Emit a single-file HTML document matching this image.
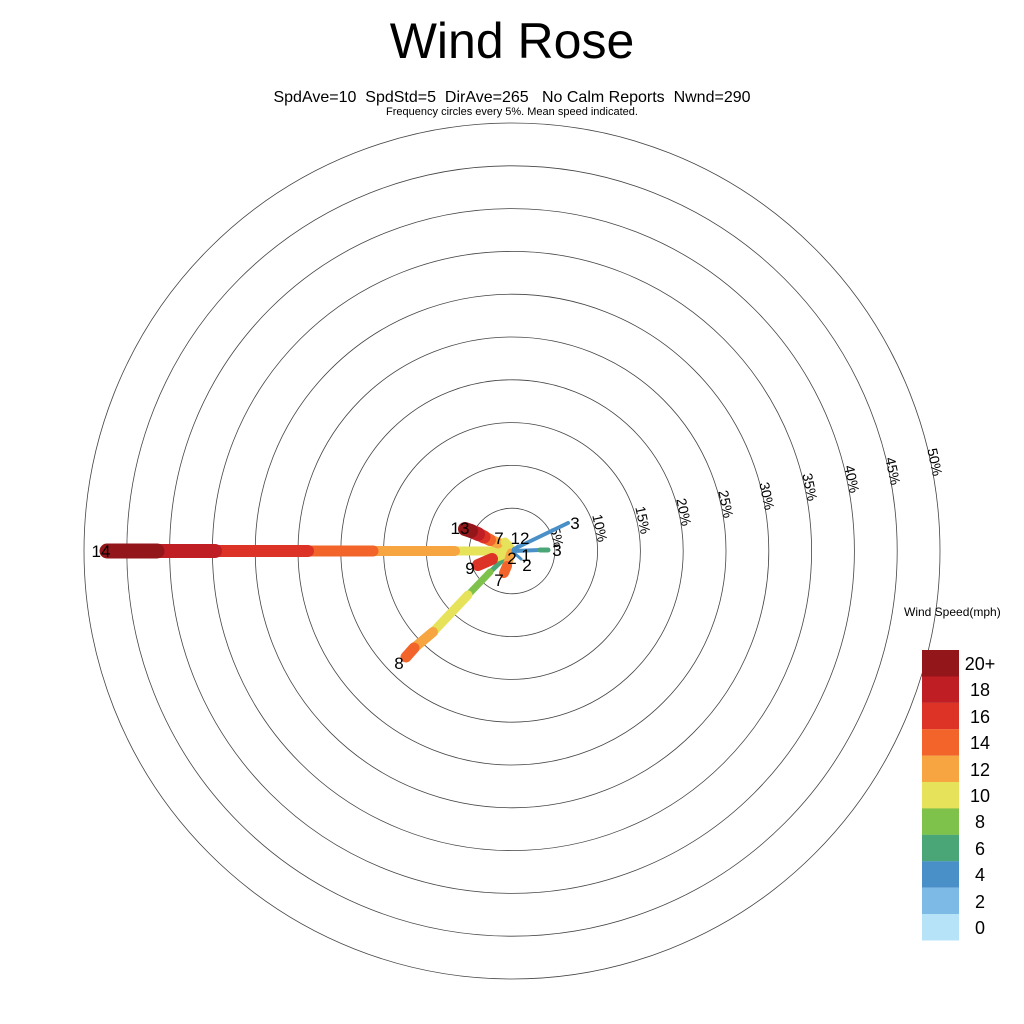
<!DOCTYPE html>
<html><head><meta charset="utf-8"><style>
html,body{margin:0;padding:0;background:#fff;}
svg{display:block;font-family:"Liberation Sans",sans-serif;}
.pre{white-space:pre;}
</style></head><body>
<svg width="1024" height="1024" viewBox="0 0 1024 1024" xmlns="http://www.w3.org/2000/svg">
<text x="512" y="58" font-size="50" text-anchor="middle">Wind Rose</text>
<text class="pre" x="512" y="102" font-size="16" text-anchor="middle" xml:space="preserve">SpdAve=10  SpdStd=5  DirAve=265   No Calm Reports  Nwnd=290</text>
<text x="512" y="115" font-size="11" text-anchor="middle">Frequency circles every 5%. Mean speed indicated.</text>
<g fill="none" stroke="#444" stroke-width="0.8">
<circle cx="512" cy="551" r="42.8"/><circle cx="512" cy="551" r="85.6"/><circle cx="512" cy="551" r="128.4"/><circle cx="512" cy="551" r="171.2"/><circle cx="512" cy="551" r="214"/><circle cx="512" cy="551" r="256.8"/><circle cx="512" cy="551" r="299.6"/><circle cx="512" cy="551" r="342.4"/><circle cx="512" cy="551" r="385.2"/><circle cx="512" cy="551" r="428"/>
</g>
<g font-size="14" text-anchor="middle">
<text transform="translate(557,537) rotate(78)" y="5">5%</text>
<text transform="translate(600,528) rotate(78)" y="5">10%</text>
<text transform="translate(643,520) rotate(78)" y="5">15%</text>
<text transform="translate(684,512) rotate(78)" y="5">20%</text>
<text transform="translate(726,504) rotate(78)" y="5">25%</text>
<text transform="translate(767,496) rotate(78)" y="5">30%</text>
<text transform="translate(810,487) rotate(78)" y="5">35%</text>
<text transform="translate(852,479) rotate(78)" y="5">40%</text>
<text transform="translate(893,471) rotate(78)" y="5">45%</text>
<text transform="translate(935,462) rotate(78)" y="5">50%</text>
</g>
<g stroke-linecap="round" fill="none">
<line x1="510" y1="551" x2="455" y2="551" stroke="#E6E35A" stroke-width="9"/>
<line x1="455" y1="551" x2="373" y2="551" stroke="#F7A541" stroke-width="10"/>
<line x1="373" y1="551" x2="308" y2="551" stroke="#F2642A" stroke-width="11"/>
<line x1="308" y1="551" x2="215" y2="551" stroke="#DD3327" stroke-width="12"/>
<line x1="215" y1="551" x2="157" y2="551" stroke="#BE1E24" stroke-width="14"/>
<line x1="157" y1="551" x2="107" y2="551" stroke="#93161A" stroke-width="15"/>
<line x1="510" y1="553" x2="490" y2="572" stroke="#4BA677" stroke-width="5"/>
<line x1="490" y1="572" x2="468" y2="595" stroke="#7EC24B" stroke-width="7"/>
<line x1="468" y1="595" x2="433" y2="632" stroke="#E6E35A" stroke-width="9"/>
<line x1="433" y1="632" x2="414" y2="648" stroke="#F7A541" stroke-width="10"/>
<line x1="414" y1="648" x2="406" y2="657" stroke="#F2642A" stroke-width="11"/>
<line x1="510" y1="550" x2="498" y2="543" stroke="#E6E35A" stroke-width="10"/>
<line x1="498" y1="543" x2="490" y2="540" stroke="#F7A541" stroke-width="11"/>
<line x1="490" y1="540" x2="484" y2="537" stroke="#F2642A" stroke-width="12"/>
<line x1="484" y1="537" x2="478" y2="534" stroke="#DD3327" stroke-width="13"/>
<line x1="478" y1="534" x2="471" y2="531" stroke="#BE1E24" stroke-width="14"/>
<line x1="471" y1="531" x2="465" y2="529" stroke="#93161A" stroke-width="14"/>
<line x1="511" y1="549" x2="505" y2="542" stroke="#E6E35A" stroke-width="9"/>
<line x1="510" y1="552" x2="492" y2="559" stroke="#E6E35A" stroke-width="9"/>
<line x1="492" y1="559" x2="478" y2="565" stroke="#DD3327" stroke-width="12"/>
<line x1="511" y1="553" x2="507" y2="566" stroke="#F7A541" stroke-width="9"/>
<line x1="507" y1="566" x2="504" y2="573" stroke="#F2642A" stroke-width="10"/>
<line x1="514" y1="549" x2="568" y2="523" stroke="#4A90C8" stroke-width="4"/>
<line x1="514" y1="551" x2="540" y2="550" stroke="#4A90C8" stroke-width="4"/>
<line x1="540" y1="550" x2="548" y2="550" stroke="#4BA677" stroke-width="5"/>
<line x1="513" y1="552" x2="521" y2="559" stroke="#4A90C8" stroke-width="3"/>
<line x1="513" y1="550" x2="518" y2="546" stroke="#4A90C8" stroke-width="3"/>
</g>
<g font-size="17" text-anchor="middle">
<text x="101" y="557">14</text>
<text x="460" y="534">13</text>
<text x="499" y="544">7</text>
<text x="520" y="544">12</text>
<text x="575" y="529">3</text>
<text x="557" y="556">3</text>
<text x="470" y="574">9</text>
<text x="499" y="586">7</text>
<text x="512" y="564">2</text>
<text x="527" y="571">2</text>
<text x="526" y="561">1</text>
<text x="399" y="669">8</text>
</g>
<text x="904" y="616" font-size="12">Wind Speed(mph)</text>
<g>
<rect x="922" y="650" width="37" height="26.5" fill="#93161A"/>
<rect x="922" y="676.4" width="37" height="26.5" fill="#BE1E24"/>
<rect x="922" y="702.8" width="37" height="26.5" fill="#DD3327"/>
<rect x="922" y="729.2" width="37" height="26.5" fill="#F2642A"/>
<rect x="922" y="755.6" width="37" height="26.5" fill="#F7A541"/>
<rect x="922" y="782" width="37" height="26.5" fill="#E6E35A"/>
<rect x="922" y="808.4" width="37" height="26.5" fill="#7EC24B"/>
<rect x="922" y="834.8" width="37" height="26.5" fill="#4BA677"/>
<rect x="922" y="861.2" width="37" height="26.5" fill="#4A90C8"/>
<rect x="922" y="887.6" width="37" height="26.5" fill="#7EBAE6"/>
<rect x="922" y="914" width="37" height="26.5" fill="#B7E3F8"/>
</g>
<g font-size="18" text-anchor="middle">
<text x="980" y="670">20+</text>
<text x="980" y="696">18</text>
<text x="980" y="723">16</text>
<text x="980" y="749">14</text>
<text x="980" y="776">12</text>
<text x="980" y="802">10</text>
<text x="980" y="828">8</text>
<text x="980" y="855">6</text>
<text x="980" y="881">4</text>
<text x="980" y="908">2</text>
<text x="980" y="934">0</text>
</g>
</svg>
</body></html>
